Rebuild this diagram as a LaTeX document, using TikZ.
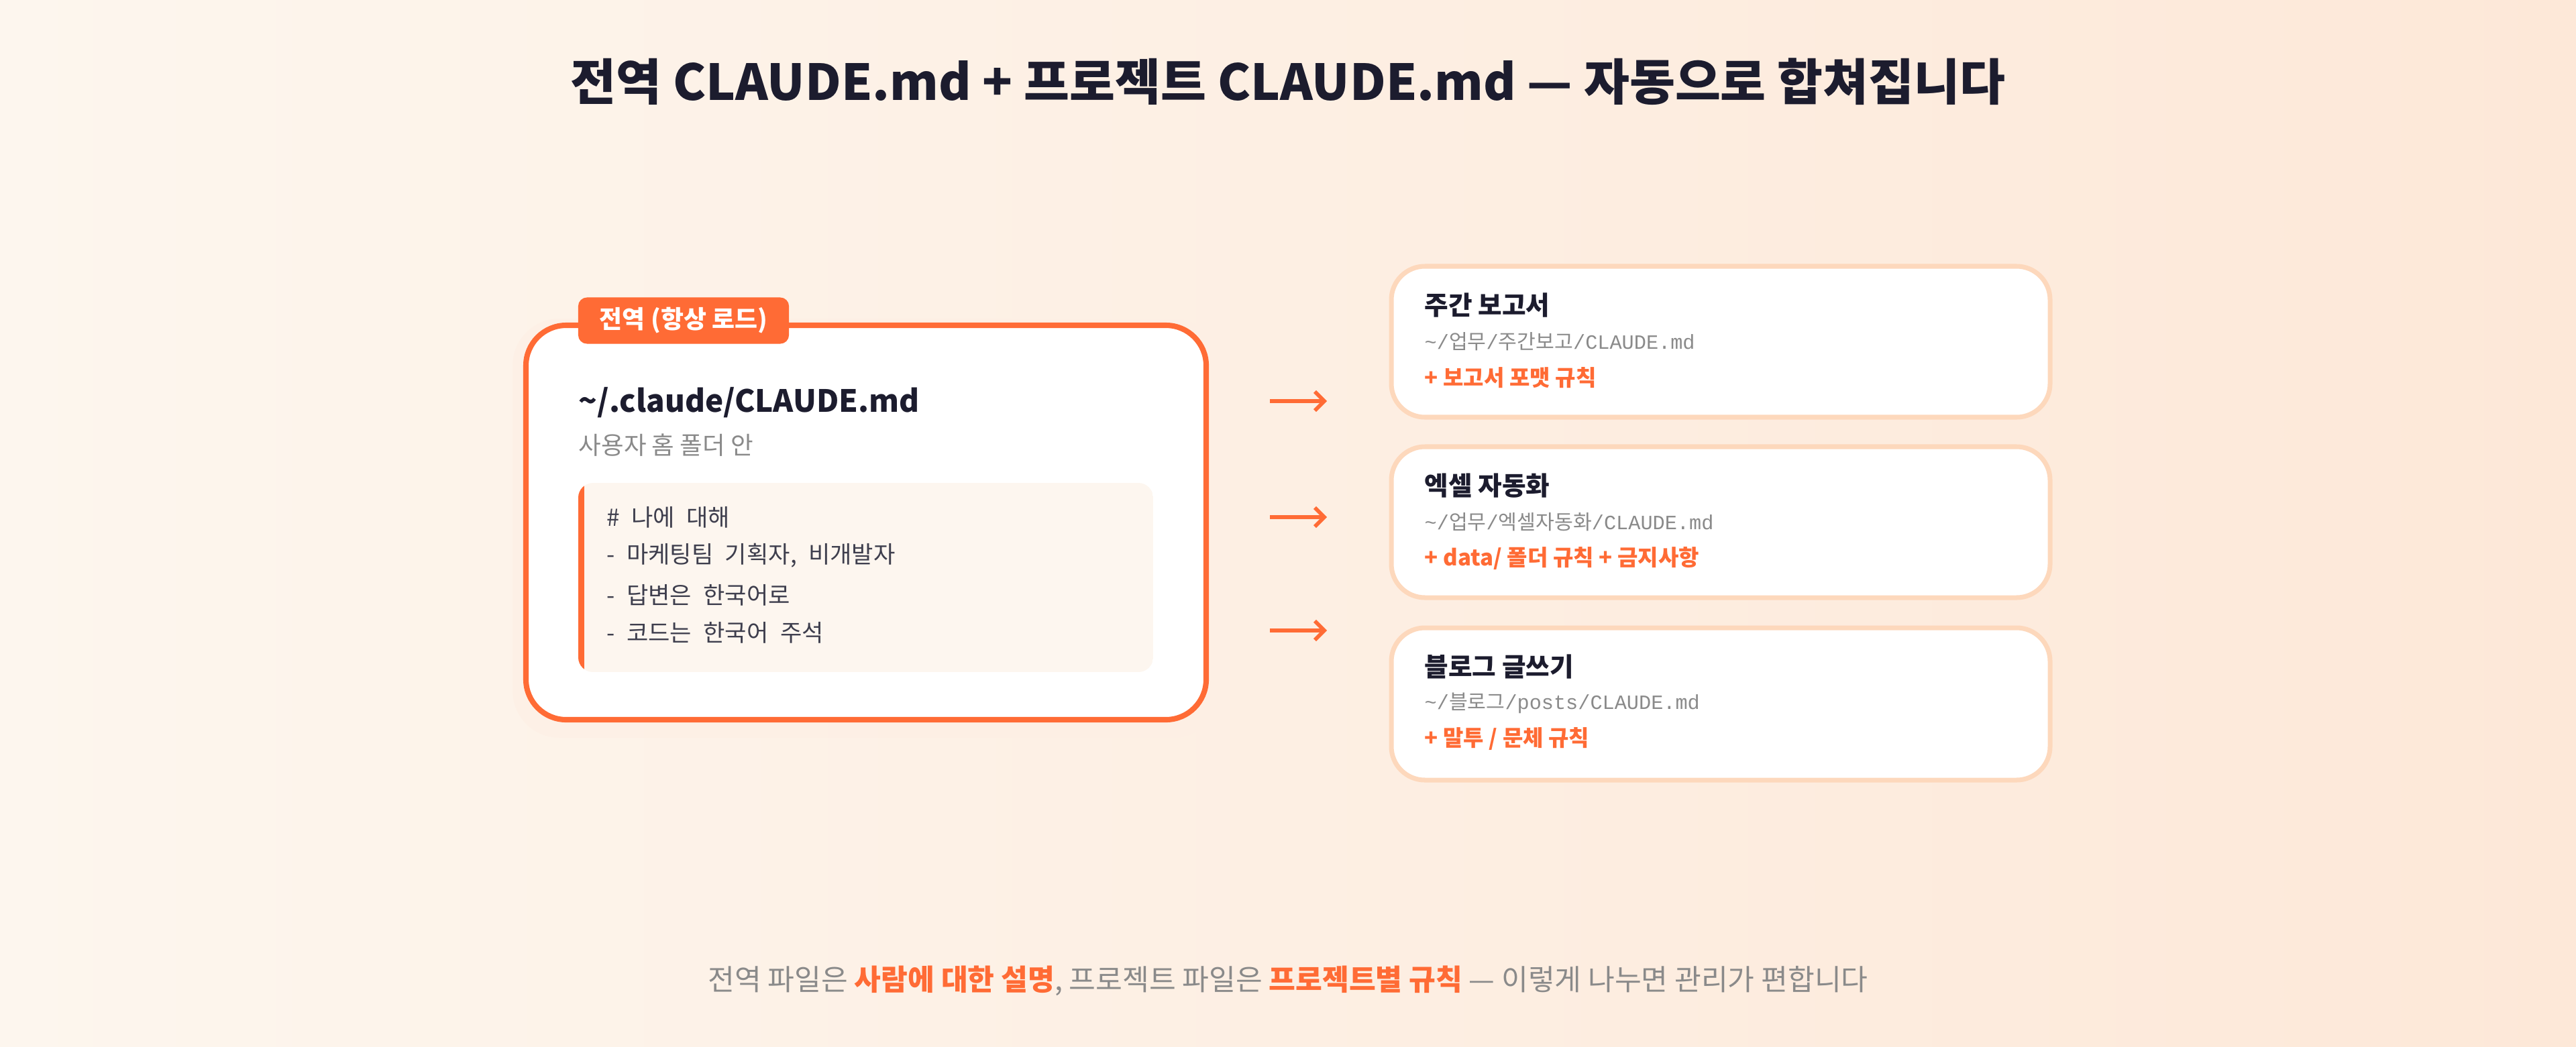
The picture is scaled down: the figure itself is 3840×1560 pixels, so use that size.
\documentclass[tikz,border=0pt]{standalone}
\usepackage{fontspec}
\setmainfont{Noto Sans CJK KR}
\newfontfamily\mono{Liberation Mono}
\newfontfamily\codefont{Noto Sans CJK KR}[WordSpace=2.2]
\usetikzlibrary{positioning, arrows.meta, calc}
\definecolor{accent}{HTML}{FF6B35}
\definecolor{ink}{HTML}{1C1C2E}
\definecolor{muted}{HTML}{8A8A8A}
\definecolor{peach}{HTML}{FDD8BC}
\definecolor{codebg}{HTML}{FDF6EF}
\definecolor{bgleft}{HTML}{FDF6EE}
\definecolor{bgright}{HTML}{FDE8D8}
\tikzset{
        main-card/.style={draw=accent, line width=2.3pt, fill=white, rounded corners=0.6cm},
        side-card/.style={draw=peach, line width=2pt, fill=white, rounded corners=0.5cm},
        txt/.style={anchor=west, inner sep=0pt},
        card-title/.style={txt, font=\fontsize{11}{13}\selectfont\bfseries, text=ink},
        card-path/.style={txt, font=\fontsize{8.6}{10}\selectfont, text=muted},
        card-rule/.style={txt, font=\fontsize{9.4}{11}\selectfont\bfseries, text=accent},
        code-line/.style={txt, font=\fontsize{10}{12}\codefont\selectfont, text=ink!85},
        link-arrow/.style={-{Straight Barb[length=4pt,width=8pt]}, accent, line width=1.6pt},
}
\newcommand{\mpath}[1]{{\mono #1}}

\begin{document}
\begin{tikzpicture}[x=0.01cm, y=-0.01cm]

        % BACKGROUND
        \shade[left color=bgleft, right color=bgright] (0,0) rectangle (3840,1560);
        \useasboundingbox (0,0) rectangle (3840,1560);

        % TITLE
        \node [font=\fontsize{21}{25}\selectfont\bfseries, text=ink] (TITLE) at (1920,122)
              {전역 CLAUDE.md + 프로젝트 CLAUDE.md — 자동으로 합쳐집니다};

        % GLOBAL CARD
        \fill [peach!40, opacity=0.5, rounded corners=0.7cm] (764,475) rectangle (1818,1100);
        \draw [main-card] (784,485) rectangle (1798,1073);
        \coordinate (GLOBAL) at (1798,779);
        \node [fill=accent, rounded corners=0.13cm, minimum width=3.14cm, minimum height=0.69cm,
               text=white, font=\fontsize{10.5}{12}\selectfont\bfseries] (TAG) at (1019,478) {전역 (항상 로드)};
        \node [txt, font=\fontsize{13}{15}\selectfont\bfseries, text=ink] (GPATH) at (862,600) {\textasciitilde/.claude/CLAUDE.md};
        \node [txt, font=\fontsize{10.4}{12}\selectfont, text=muted] (GSUB) at (862,664) {사용자 홈 폴더 안};

        % CODE BOX
        \begin{scope}
            \clip [rounded corners=0.22cm] (862,720) rectangle (1719,1002);
            \fill [codebg] (862,720) rectangle (1719,1002);
            \fill [accent] (862,720) rectangle (871,1002);
        \end{scope}
        \node [code-line] (L1) at (904,771) {\# 나에 대해};
        \node [code-line] (L2) at (904,828) {- 마케팅팀 기획자, 비개발자};
        \node [code-line] (L3) at (904,887) {- 답변은 한국어로};
        \node [code-line] (L4) at (904,943) {- 코드는 한국어 주석};

        % PROJECT CARDS
        \draw [side-card] (2074,397) rectangle (3056,622);
        \node [card-title] (P1T) at (2123,455) {주간 보고서};
        \node [card-path]  (P1P) at (2123,509) {\mpath{\textasciitilde/}업무\mpath{/}주간보고\mpath{/CLAUDE.md}};
        \node [card-rule]  (P1R) at (2123,563) {+ 보고서 포맷 규칙};

        \draw [side-card] (2074,666) rectangle (3056,891);
        \node [card-title] (P2T) at (2123,724) {엑셀 자동화};
        \node [card-path]  (P2P) at (2123,778) {\mpath{\textasciitilde/}업무\mpath{/}엑셀자동화\mpath{/CLAUDE.md}};
        \node [card-rule]  (P2R) at (2123,832) {+ data/ 폴더 규칙 + 금지사항};

        \draw [side-card] (2074,936) rectangle (3056,1163);
        \node [card-title] (P3T) at (2123,994) {블로그 글쓰기};
        \node [card-path]  (P3P) at (2123,1048) {\mpath{\textasciitilde/}블로그\mpath{/posts/CLAUDE.md}};
        \node [card-rule]  (P3R) at (2123,1102) {+ 말투 / 문체 규칙};

        % ARROWS
        \coordinate (A1S) at (1893,598);  \coordinate (A1E) at (1978,598);
        \coordinate (A2S) at (1893,771);  \coordinate (A2E) at (1978,771);
        \coordinate (A3S) at (1893,940);  \coordinate (A3E) at (1978,940);
        \draw [link-arrow] (A1S) -- (A1E);
        \draw [link-arrow] (A2S) -- (A2E);
        \draw [link-arrow] (A3S) -- (A3E);

        % FOOTER
        \node [font=\fontsize{12.3}{15}\selectfont, text=muted] (FOOT) at (1920,1462)
              {전역 파일은 \textcolor{accent}{\bfseries 사람에 대한 설명}, 프로젝트 파일은 \textcolor{accent}{\bfseries 프로젝트별 규칙} — 이렇게 나누면 관리가 편합니다};

\end{tikzpicture}
\end{document}
